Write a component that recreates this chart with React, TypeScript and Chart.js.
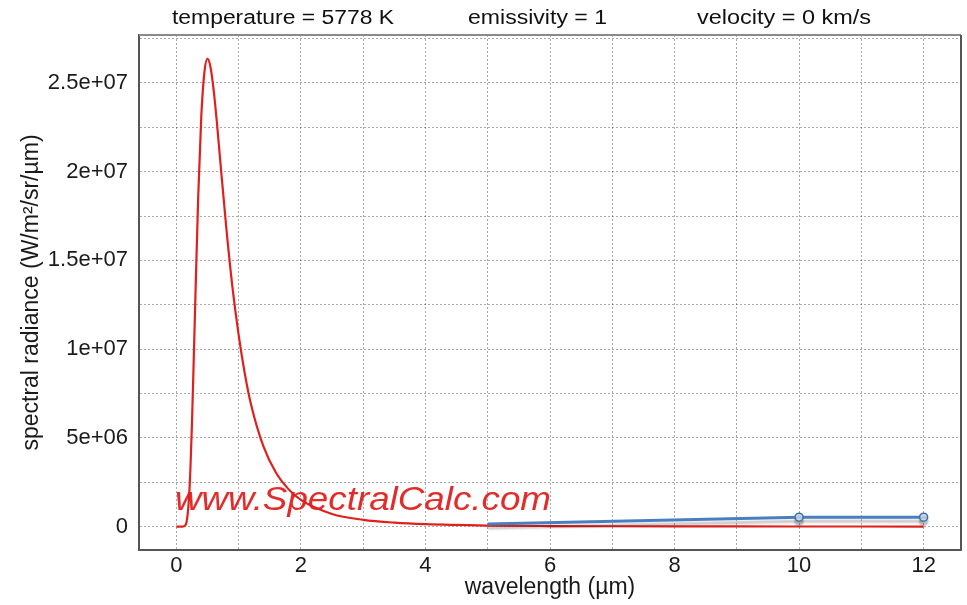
import React, { useEffect, useRef } from 'react';
import { Chart, registerables } from 'chart.js';

Chart.register(...registerables);

// Blackbody curve
const wavelengths = [0, 0.05, 0.1, 0.15, 0.2, 0.225, 0.25, 0.275, 0.3, 0.35, 0.4, 0.45, 0.5, 0.55, 0.6, 0.65, 0.7, 0.8, 0.9, 1.0, 1.1, 1.2, 1.4, 1.6, 1.8, 2.0, 2.5, 3, 3.5, 4, 5, 6, 7, 8, 9, 10, 11, 12];
const radiance = [0, 0, 0, 1.0e5, 1.45e6, 3.2e6, 5.75e6, 8.9e6, 1.22e7, 1.85e7, 2.31e7, 2.56e7, 2.637e7, 2.585e7, 2.455e7, 2.28e7, 2.08e7, 1.69e7, 1.35e7, 1.08e7, 8.6e6, 6.87e6, 4.5e6, 3.03e6, 2.11e6, 1.5e6, 7.1e5, 3.8e5, 2.2e5, 1.35e5, 5.9e4, 3.0e4, 1.7e4, 1.0e4, 6.3e3, 4.2e3, 2.9e3, 2.1e3];

// Blue series
const blueWavelengths = [5, 10, 12];
const blueRadiance = [1.4e5, 5.3e5, 5.3e5];
const bluePointRadius = [0, 4, 4];

// Axes
const xGridValues = [0, 1, 2, 3, 4, 5, 6, 7, 8, 9, 10, 11, 12];
const xTickValues = [0, 2, 4, 6, 8, 10, 12];
const xTickLabels = ['0', '2', '4', '6', '8', '10', '12'];
const yGridValues = [0, 2.5e6, 5e6, 7.5e6, 1e7, 1.25e7, 1.5e7, 1.75e7, 2e7, 2.25e7, 2.5e7, 2.75e7];
const yTickValues = [0, 5e6, 1e7, 1.5e7, 2e7, 2.5e7];
const yTickLabels = ['0', '5e+06', '1e+07', '1.5e+07', '2e+07', '2.5e+07'];

const headerTexts = ['temperature = 5778 K', 'emissivity = 1', 'velocity = 0 km/s'];
const headerLeft = [172, 468, 697];
const headerWidth = [222, 139, 174];
const watermarkText = 'www.SpectralCalc.com';
const xTitle = 'wavelength (\u00b5m)';
const yTitle = 'spectral radiance (W/m\u00b2/sr/\u00b5m)';

const FONT = '"Liberation Sans", Arial, Helvetica, sans-serif';

const decorPlugin = {
  id: 'decor',
  beforeDatasetDraw(chart: any, args: any) {
    if (args.index === 1) {
      const ctx = chart.ctx;
      ctx.save();
      ctx.shadowColor = 'rgba(0,0,0,0.22)';
      ctx.shadowOffsetY = 4;
      ctx.shadowBlur = 2;
    }
  },
  afterDatasetDraw(chart: any, args: any) {
    if (args.index === 1) chart.ctx.restore();
  },
  afterDatasetsDraw(chart: any) {
    const ctx = chart.ctx;
    ctx.save();
    ctx.font = `italic 33px ${FONT}`;
    ctx.fillStyle = 'rgba(226,32,30,0.95)';
    ctx.textBaseline = 'alphabetic';
    ctx.textAlign = 'left';
    const w = ctx.measureText(watermarkText).width;
    ctx.translate(175, 510);
    ctx.scale(376 / w, 1);
    ctx.fillText(watermarkText, 0, 0);
    ctx.restore();
  },
  afterDraw(chart: any) {
    const ctx = chart.ctx;
    const a = chart.chartArea;
    ctx.save();
    ctx.strokeStyle = '#8a8a8a';
    ctx.lineWidth = 2;
    ctx.beginPath();
    ctx.moveTo(a.left, a.top);
    ctx.lineTo(a.right, a.top);
    ctx.stroke();
    ctx.strokeStyle = '#555';
    ctx.beginPath();
    ctx.moveTo(a.right, a.top);
    ctx.lineTo(a.right, a.bottom + 1);
    ctx.stroke();
    ctx.font = `20px ${FONT}`;
    ctx.fillStyle = '#111';
    ctx.textBaseline = 'alphabetic';
    ctx.textAlign = 'left';
    headerTexts.forEach((t, i) => {
      const w = ctx.measureText(t).width;
      ctx.save();
      ctx.translate(headerLeft[i], 24);
      ctx.scale(headerWidth[i] / w, 1);
      ctx.fillText(t, 0, 0);
      ctx.restore();
    });
    ctx.restore();
  },
};

export default function App() {
  const ref = useRef<HTMLCanvasElement>(null);
  useEffect(() => {
    const canvas = ref.current!;
    const gridStyle = { color: 'rgba(0,0,0,0.33)', lineWidth: 1, drawTicks: false };
    const chart = new Chart(canvas, {
      type: 'line',
      data: {
        datasets: [
          {
            label: 'blackbody',
            data: wavelengths.map((x, i) => ({ x, y: radiance[i] })),
            borderColor: '#e0201c',
            borderWidth: 2.2,
            pointRadius: 0,
            cubicInterpolationMode: 'monotone',
            fill: false,
            order: 2,
          },
          {
            label: 'measured',
            data: blueWavelengths.map((x, i) => ({ x, y: blueRadiance[i] })),
            borderColor: '#4a7fbf',
            borderWidth: 3,
            pointRadius: bluePointRadius,
            pointBackgroundColor: '#c9dcf2',
            pointBorderColor: '#3f6ea6',
            pointBorderWidth: 1.5,
            tension: 0,
            fill: false,
            order: 1,
          },
        ],
      },
      options: {
        responsive: false,
        animation: false,
        devicePixelRatio: 1,
        layout: { padding: { left: 0, right: 6, top: 35, bottom: 0 } },
        plugins: {
          legend: { display: false },
          tooltip: { enabled: false },
          title: { display: false },
        },
        scales: {
          x: {
            type: 'linear',
            min: -0.6,
            max: 12.6,
            afterBuildTicks: (s: any) => {
              s.ticks = xGridValues.map((v) => ({ value: v }));
            },
            afterFit: (s: any) => {
              s.height = 55;
            },
            grid: gridStyle,
            border: { display: true, color: '#555', width: 2, dash: [2, 2] },
            ticks: {
              padding: 3,
              color: '#1a1a1a',
              font: { family: FONT, size: 22 },
              maxRotation: 0,
              autoSkip: false,
              callback: (v: any) => {
                const i = xTickValues.indexOf(Number(v));
                return i >= 0 ? xTickLabels[i] : '';
              },
            },
            title: {
              display: true,
              text: xTitle,
              color: '#1a1a1a',
              font: { family: FONT, size: 23 },
              padding: { top: 0, bottom: 4 },
            },
          },
          y: {
            type: 'linear',
            min: -1.32e6,
            max: 2.77e7,
            afterBuildTicks: (s: any) => {
              s.ticks = yGridValues.map((v) => ({ value: v }));
            },
            afterFit: (s: any) => {
              s.width = 139;
            },
            grid: gridStyle,
            border: { display: true, color: '#555', width: 2, dash: [2, 2] },
            ticks: {
              padding: 11,
              color: '#1a1a1a',
              font: { family: FONT, size: 22 },
              autoSkip: false,
              callback: (v: any) => {
                const i = yTickValues.indexOf(Number(v));
                return i >= 0 ? yTickLabels[i] : '';
              },
            },
            title: {
              display: true,
              text: yTitle,
              color: '#1a1a1a',
              font: { family: FONT, size: 23 },
              padding: { top: 18, bottom: 0 },
            },
          },
        },
      },
      plugins: [decorPlugin],
    } as any);
    return () => chart.destroy();
  }, []);
  return (
    <div style={{ position: 'fixed', left: 0, top: 0, width: 967, height: 605, background: '#fff' }}>
      <canvas ref={ref} width={967} height={605} style={{ display: 'block' }} />
    </div>
  );
}
